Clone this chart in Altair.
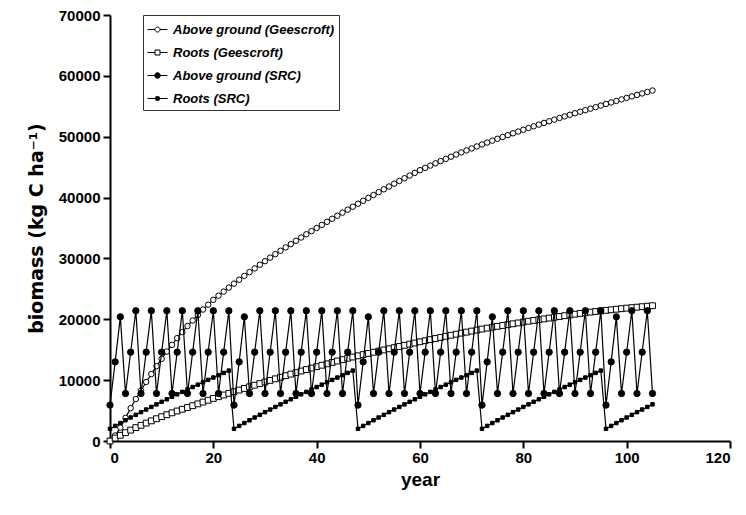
import altair as alt
import pandas as pd

years = list(range(0, 106))

above_geescroft = [
    0, 900, 2200, 3800, 5400, 6900, 8300, 9700, 11000, 12300,
    13500, 14700, 15800, 16900, 17900, 18900, 19800, 20700, 21600, 22400,
    23200, 23880, 24550, 25210, 25860, 26500, 27130, 27750, 28360, 28960,
    29550, 30130, 30700, 31260, 31810, 32360, 32900, 33440, 33970, 34490,
    35000, 35510, 36020, 36520, 37020, 37520, 38010, 38500, 38990, 39470,
    39950, 40420, 40890, 41360, 41820, 42280, 42730, 43180, 43620, 44060,
    44500, 44880, 45260, 45630, 46000, 46360, 46720, 47070, 47420, 47750,
    48080, 48400, 48720, 49040, 49350, 49660, 49960, 50260, 50560, 50850,
    51140, 51430, 51710, 51990, 52270, 52540, 52810, 53080, 53340, 53600,
    53860, 54110, 54360, 54610, 54860, 55120, 55380, 55630, 55880, 56130,
    56380, 56630, 56870, 57110, 57350, 57590]

roots_geescroft = [
    0, 480, 940, 1370, 1790, 2200, 2580, 2950, 3310, 3660,
    4000, 4320, 4630, 4930, 5220, 5500, 5800, 6100, 6400, 6700,
    7000, 7280, 7560, 7830, 8100, 8370, 8640, 8910, 9170, 9430,
    9700, 9960, 10220, 10480, 10740, 10990, 11240, 11500, 11740, 11980,
    12220, 12450, 12680, 12910, 13140, 13370, 13600, 13800, 14000, 14200,
    14390, 14580, 14770, 14960, 15150, 15340, 15530, 15720, 15910, 16100,
    16300, 16480, 16660, 16840, 17020, 17200, 17380, 17550, 17720, 17890,
    18060, 18230, 18390, 18550, 18700, 18840, 18980, 19120, 19260, 19400,
    19540, 19680, 19810, 19940, 20070, 20200, 20330, 20460, 20590, 20720,
    20840, 20960, 21080, 21180, 21280, 21380, 21470, 21560, 21650, 21740,
    21830, 21910, 21990, 22070, 22150, 22230]

above_src = [
    5900, 13000, 20400, 7800, 14600, 21400, 7800, 14600, 21400, 7800, 14600, 21400,
    7800, 14600, 21400, 7800, 14600, 21400, 7800, 14600, 21400, 7800, 14600, 21400,
    5900, 13000, 20400, 7800, 14600, 21400, 7800, 14600, 21400, 7800, 14600, 21400,
    7800, 14600, 21400, 7800, 14600, 21400, 7800, 14600, 21400, 7800, 14600, 21400,
    5900, 13000, 20400, 7800, 14600, 21400, 7800, 14600, 21400, 7800, 14600, 21400,
    7800, 14600, 21400, 7800, 14600, 21400, 7800, 14600, 21400, 7800, 14600, 21400,
    5900, 13000, 20400, 7800, 14600, 21400, 7800, 14600, 21400, 7800, 14600, 21400,
    7800, 14600, 21400, 7800, 14600, 21400, 7800, 14600, 21400, 7800, 14600, 21400,
    5900, 13000, 20400, 7800, 14600, 21400, 7800, 14600, 21400, 7800]

roots_src = [
    2000, 2480, 2950, 3410, 3860, 4300, 4740, 5170, 5600, 6020, 6440, 6850,
    7260, 7670, 8070, 8470, 8870, 9260, 9650, 10040, 10430, 10810, 11190, 11570,
    2000, 2480, 2950, 3410, 3860, 4300, 4740, 5170, 5600, 6020, 6440, 6850,
    7260, 7670, 8070, 8470, 8870, 9260, 9650, 10040, 10430, 10810, 11190, 11570,
    2000, 2480, 2950, 3410, 3860, 4300, 4740, 5170, 5600, 6020, 6440, 6850,
    7260, 7670, 8070, 8470, 8870, 9260, 9650, 10040, 10430, 10810, 11190, 11570,
    2000, 2480, 2950, 3410, 3860, 4300, 4740, 5170, 5600, 6020, 6440, 6850,
    7260, 7670, 8070, 8470, 8870, 9260, 9650, 10040, 10430, 10810, 11190, 11570,
    2000, 2480, 2950, 3410, 3860, 4300, 4740, 5170, 5600, 6020]

series_names = [
    "Above ground (Geescroft)",
    "Roots (Geescroft)",
    "Above ground (SRC)",
    "Roots (SRC)",
]
series_values = [above_geescroft, roots_geescroft, above_src, roots_src]

rows = []
for name, vals in zip(series_names, series_values):
    for yr, v in zip(years, vals):
        rows.append({"year": yr, "biomass": v, "series": name})
df = pd.DataFrame(rows)

FONT = "Liberation Sans"

x_enc = alt.X("year:Q", title="year",
              scale=alt.Scale(domain=[0, 120], nice=False),
              axis=alt.Axis(values=[0, 20, 40, 60, 80, 100, 120], labelPadding=2, titlePadding=5))
y_enc = alt.Y("biomass:Q", title="biomass (kg C ha\u207b\u00b9)",
              scale=alt.Scale(domain=[0, 70000], nice=False),
              axis=alt.Axis(values=[0, 10000, 20000, 30000, 40000, 50000, 60000, 70000],
                            format="d", labelPadding=3, titlePadding=12,
                            titleFont="DejaVu Sans", titleFontSize=19))

# marker styles per series: (shape, fill, size)
styles = {
    "Above ground (Geescroft)": ("circle", "white", 30),
    "Roots (Geescroft)": ("square", "white", 34),
    "Above ground (SRC)": ("circle", "black", 40),
    "Roots (SRC)": ("square", "black", 12),
}

layers = []
for name in series_names:
    shape, fill, size = styles[name]
    base = alt.Chart(df).transform_filter(alt.datum.series == name)
    line = base.mark_line(color="black", strokeWidth=1.2).encode(x=x_enc, y=y_enc)
    pts = base.mark_point(shape=shape, fill=fill, stroke="black", strokeWidth=1,
                          size=size, opacity=1, filled=False).encode(x=x_enc, y=y_enc)
    layers += [line, pts]

# legend symbols: short line with marker in the middle
legend_paths = [
    "M-1,0H-0.25M0.25,0H1M0.25,0A0.25,0.25,0,1,1,-0.25,0A0.25,0.25,0,1,1,0.25,0Z",
    "M-1,0H-0.25M0.25,0H1M-0.25,-0.25H0.25V0.25H-0.25Z",
    "M-1,0H-0.28M0.28,0H1M0.28,0A0.28,0.28,0,1,1,-0.28,0A0.28,0.28,0,1,1,0.28,0Z",
    "M-1,0H-0.17M0.17,0H1M-0.17,-0.17H0.17V0.17H-0.17Z",
]
legend_fills = ["white", "white", "black", "black"]
legend_strokes = ["black", "black", "black", "black"]

def make_leg():
    return alt.Legend(
        title=None, orient="none", legendX=33, legendY=0,
        labelFont=FONT, labelFontSize=13, labelFontWeight="bold", labelFontStyle="italic",
        labelColor="black", labelLimit=0, symbolSize=400, symbolStrokeWidth=1,
        symbolOpacity=1, labelOffset=5, rowPadding=5, padding=4,
        strokeColor="#333333", fillColor="white",
    )

legend_df = pd.DataFrame({"series": series_names})
legend_layer = alt.Chart(legend_df).transform_filter("false").mark_point(
    filled=True, strokeWidth=1).encode(
    shape=alt.Shape("series:N", scale=alt.Scale(domain=series_names, range=legend_paths), legend=make_leg()),
    fill=alt.Fill("series:N", scale=alt.Scale(domain=series_names, range=legend_fills), legend=make_leg()),
    stroke=alt.Stroke("series:N", scale=alt.Scale(domain=series_names, range=legend_strokes), legend=make_leg()),
)

chart = alt.layer(*layers, legend_layer).properties(
    width=620, height=426,
    padding={"left": 19, "top": 0, "right": 5, "bottom": 5},
).configure_view(stroke=None).configure_axis(
    grid=False,
    labelFont=FONT, labelFontSize=15, labelFontWeight="bold", labelColor="black",
    titleFont=FONT, titleFontSize=19, titleFontWeight="bold", titleColor="black",
    domainColor="black", domainWidth=2, tickColor="black", tickWidth=2, tickSize=7,
)

chart.save("out.html", embed_options={"renderer": "svg", "actions": False})
